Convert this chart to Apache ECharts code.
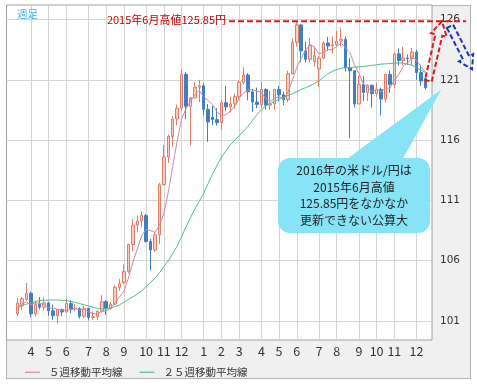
<!DOCTYPE html>
<html><head><meta charset="utf-8">
<script src="https://cdn.jsdelivr.net/npm/echarts@6/dist/echarts.min.js"></script>
<style>
html,body{margin:0;padding:0;background:#fff;}
#panel{position:absolute;left:6px;top:5px;width:465px;height:374px;box-sizing:border-box;background:#f0f0f0;border:1px solid #b4b4b4;}
#chart{position:absolute;left:0;top:0;width:477px;height:388px;}
</style></head><body>
<div id="panel"></div><div id="chart"></div>
<script>
// ---- data ----
const weeks = ['2014/03/17','2014/03/24','2014/03/31','2014/04/07','2014/04/14','2014/04/21','2014/04/28','2014/05/05','2014/05/12','2014/05/19',
'2014/05/26','2014/06/02','2014/06/09','2014/06/16','2014/06/23','2014/06/30','2014/07/07','2014/07/14','2014/07/21','2014/07/28',
'2014/08/04','2014/08/11','2014/08/18','2014/08/25','2014/09/01','2014/09/08','2014/09/15','2014/09/22','2014/09/29','2014/10/06',
'2014/10/13','2014/10/20','2014/10/27','2014/11/03','2014/11/10','2014/11/17','2014/11/24','2014/12/01','2014/12/08','2014/12/15',
'2014/12/22','2014/12/29','2015/01/05','2015/01/12','2015/01/19','2015/01/26','2015/02/02','2015/02/09','2015/02/16','2015/02/23',
'2015/03/02','2015/03/09','2015/03/16','2015/03/23','2015/03/30','2015/04/06','2015/04/13','2015/04/20','2015/04/27','2015/05/04',
'2015/05/11','2015/05/18','2015/05/25','2015/06/01','2015/06/08','2015/06/15','2015/06/22','2015/06/29','2015/07/06','2015/07/13',
'2015/07/20','2015/07/27','2015/08/03','2015/08/10','2015/08/17','2015/08/24','2015/08/31','2015/09/07','2015/09/14','2015/09/21',
'2015/09/28','2015/10/05','2015/10/12','2015/10/19','2015/10/26','2015/11/02','2015/11/09','2015/11/16','2015/11/23','2015/11/30',
'2015/12/07','2015/12/14','2015/12/21'];

const open = [101.6,102.3,102.8,103.3,101.6,102.4,102.15,102.5,101.85,101.45,
101.95,101.75,102.45,102.0,102.05,101.4,102.05,101.3,101.35,101.8,
102.6,102.05,102.4,103.8,104.2,105.1,107.35,108.95,109.3,109.75,
107.6,106.9,108.15,112.3,114.6,116.3,117.75,118.65,121.45,118.8,
119.5,120.4,120.5,118.55,117.9,117.7,117.45,119.1,118.75,119.0,
119.6,120.8,121.4,120.0,119.15,118.95,120.2,118.9,119.0,120.2,
119.75,119.35,121.5,124.1,125.55,123.4,122.7,122.5,121.9,122.8,
124.05,123.8,123.9,124.2,124.35,122.0,121.75,119.0,120.6,119.95,
120.55,119.85,120.2,119.4,121.45,120.6,123.15,122.6,122.8,122.75,
123.3,121.6,121.1];
const close = [102.5,102.85,103.3,101.6,102.4,102.15,102.5,101.85,101.45,101.95,
101.75,102.45,102.0,102.05,101.4,102.05,101.3,101.35,101.8,102.6,
102.05,102.4,103.8,104.1,105.1,107.35,108.95,109.3,109.75,107.6,
106.9,108.15,112.3,114.6,116.3,117.75,118.65,121.45,118.8,119.5,
120.4,120.5,118.55,117.5,117.7,117.45,119.1,118.75,119.0,119.6,
120.8,121.4,120.0,119.15,118.95,120.2,118.9,119.0,120.2,119.75,
119.35,121.5,124.1,125.55,123.4,122.7,123.85,123.0,122.8,124.05,
123.8,123.9,124.2,124.35,122.0,121.75,119.0,120.6,119.95,120.55,
119.85,120.2,119.4,121.45,120.6,123.15,122.6,122.8,122.75,123.3,
121.6,120.9,120.35];
const low = [101.4,101.9,102.7,101.3,101.4,101.95,101.9,101.45,101.1,100.82,
101.4,101.7,101.65,101.8,101.2,101.25,101.05,101.1,101.1,101.7,
101.5,101.95,102.3,103.5,104.05,104.95,106.8,108.35,108.8,107.5,
105.2,106.7,107.4,112.25,114.1,115.45,117.25,118.5,117.75,115.57,
119.45,119.15,118.06,115.85,117.25,117.2,116.85,118.4,118.3,118.6,
119.35,120.6,119.3,118.35,118.65,118.7,118.55,118.5,118.5,119.2,
118.9,119.15,121.45,123.75,122.45,122.45,122.45,122.1,120.4,122.75,
123.4,123.2,123.75,123.8,121.7,116.15,118.7,119.0,119.25,119.25,
118.7,119.6,118.05,119.1,119.9,120.3,122.2,122.2,122.25,122.2,
121.0,120.5,120.2];
const high = [102.9,103.0,104.15,103.45,102.7,103.0,102.95,102.6,102.35,101.95,
102.05,102.8,102.75,102.4,102.15,102.25,102.1,101.8,101.9,103.15,
102.75,102.6,104.0,104.5,105.7,107.4,109.45,109.75,110.1,109.9,
107.8,108.4,112.45,115.6,116.45,118.0,118.95,121.85,121.65,119.4,
120.8,121.0,120.7,119.0,118.85,118.65,119.25,120.5,119.6,119.85,
120.95,122.05,121.55,120.25,120.35,120.85,120.3,120.1,120.25,120.5,
120.0,121.75,124.45,125.86,125.6,124.15,124.45,123.75,123.0,124.2,
124.55,124.6,125.05,125.3,124.6,122.8,121.75,121.35,121.3,120.65,
120.6,120.75,120.35,121.5,121.75,123.25,123.6,123.75,123.1,123.65,
123.5,122.25,121.5];
const ma5 = [102.2,102.4,102.6,102.32,102.53,102.46,102.39,102.10,102.07,101.98,
101.90,101.89,101.92,102.04,101.93,101.99,101.76,101.63,101.58,101.82,
101.82,102.04,102.53,102.99,103.49,104.55,105.86,106.96,108.09,108.59,
108.50,108.34,108.94,109.91,111.65,113.82,115.92,117.75,118.59,119.23,
119.76,120.13,119.55,119.29,118.93,118.34,118.06,118.10,118.40,118.78,
119.45,119.91,120.16,120.19,120.06,119.94,119.44,119.24,119.45,119.61,
119.44,119.96,120.98,122.05,122.78,123.45,123.92,123.70,123.15,123.28,
123.50,123.51,123.75,124.06,123.65,123.24,122.26,121.54,120.66,120.37,
119.99,120.23,119.99,120.29,120.30,120.96,121.44,122.12,122.38,122.92,
122.60,122.12,121.65];
const ma25 = [102.1,102.25,102.4,102.5,102.6,102.7,102.72,102.74,102.75,102.75,
102.72,102.68,102.62,102.55,102.45,102.35,102.25,102.15,102.05,102.0,
102.0,102.1,102.2,102.35,102.55,102.8,103.0,103.25,103.5,103.85,
104.2,104.55,105.0,105.5,106.0,106.6,107.2,108.0,108.8,109.55,
110.3,110.95,111.6,112.4,113.2,113.9,114.6,115.1,115.6,116.0,
116.35,116.75,117.15,117.65,118.1,118.5,118.85,119.05,119.2,119.4,
119.55,119.7,119.85,120.0,120.2,120.35,120.5,120.7,120.9,121.2,
121.5,121.7,121.85,121.95,122.0,122.02,122.05,122.08,122.1,122.15,
122.2,122.25,122.3,122.32,122.35,122.38,122.4,122.38,122.3,122.2,
122.0,121.8,121.6];
const tickWeeks = ['2014/04/07','2014/05/05','2014/06/02','2014/07/07','2014/08/04','2014/09/01','2014/10/06','2014/11/03','2014/12/01',
'2015/01/05','2015/02/02','2015/03/02','2015/04/06','2015/05/04','2015/06/01','2015/07/06','2015/08/03','2015/09/07','2015/10/05','2015/11/02','2015/12/07'];
const tickLabels = ['4','5','6','7','8','9','10','11','12','1','2','3','4','5','6','7','8','9','10','11','12'];
const yTicks = [101,106,111,116,121,126];
const highValue = 125.85;
const seriesNames = ['５週移動平均線','２５週移動平均線'];
const highText = '2015年6月高値125.85円';
const noteLines = ['2016年の米ドル/円は','2015年6月高値','125.85円をなかなか','更新できない公算大'];
const periodText = '週足';

// ---- chart ----
const JP = '"Noto Sans CJK JP", sans-serif';
const cats = ['pad0','pad1'].concat(weeks, ['pad2']);
const blank = v => ['-','-'].concat(v, ['-']);
const candles = weeks.map((w,i)=>[open[i],close[i],low[i],high[i]]);
const chart = echarts.init(document.getElementById('chart'));
chart.setOption({
  animation:false,
  grid:{left:6.5,right:45,top:5,bottom:48,show:true,backgroundColor:'#fff',borderColor:'#a0a0a0',borderWidth:1},
  xAxis:{type:'category',data:cats,boundaryGap:true,
    axisLine:{show:false},axisTick:{show:false},splitLine:{show:false},
    axisLabel:{interval:(idx,val)=>tickWeeks.includes(val),
      formatter:val=>{const k=tickWeeks.indexOf(val);return k>=0?tickLabels[k]:'';},
      margin:5,color:'#333',fontSize:12.5,fontFamily:JP}},
  yAxis:{type:'value',position:'right',min:99.43,max:127.2,scale:true,
    axisLine:{show:false},axisTick:{show:false,customValues:yTicks},splitLine:{show:false},
    axisLabel:{customValues:yTicks,margin:8,color:'#333',fontSize:10.5,fontFamily:'"DejaVu Sans", sans-serif'}},
  legend:{data:seriesNames,left:20,top:362,icon:'rect',itemWidth:15,itemHeight:1.2,itemGap:17,
    textStyle:{fontSize:10.5,color:'#333',fontFamily:JP,padding:[0,0,0,4]}},
  series:[
    {type:'line',name:'gridlines',data:[],silent:true,
      markLine:{z:0,silent:true,symbol:'none',label:{show:false},animation:false,
        lineStyle:{color:'#d4d4d4',width:1,type:'solid'},
        data:tickWeeks.map(w=>({xAxis:w})).concat(yTicks.map(v=>({yAxis:v})))}},
    {type:'candlestick',name:'USDJPY',data:blank(candles).map(c=>c==='-'?['-','-','-','-']:c),
      barWidth:3,z:3,
      itemStyle:{color:'#f7cfc5',color0:'#3f7fc4',borderColor:'#e07c68',borderColor0:'#3f7fc4',borderWidth:1}},
    {type:'line',name:seriesNames[0],data:blank(ma5),symbol:'none',z:4,
      lineStyle:{color:'#cf8a9c',width:1},itemStyle:{color:'#cf8a9c'}},
    {type:'line',name:seriesNames[1],data:blank(ma25),symbol:'none',z:4,
      lineStyle:{color:'#52bd8e',width:1},itemStyle:{color:'#52bd8e'}}
  ]
});

// ---- annotations ----
const yPix = v => chart.convertToPixel({yAxisIndex:0}, v);
const xPix = c => chart.convertToPixel({xAxisIndex:0}, c);
const hy = yPix(highValue);
const lastX = xPix(weeks[weeks.length-1]);
function arrowPts(tx,ty,px,py,s,h,L){
  const dx=px-tx, dy=py-ty, len=Math.hypot(dx,dy), ux=dx/len, uy=dy/len, nx=-uy, ny=ux;
  const bx=px-ux*L, by=py-uy*L;
  return [[tx+nx*s,ty+ny*s],[bx+nx*s,by+ny*s],[bx+nx*h,by+ny*h],[px,py],[bx-nx*h,by-ny*h],[bx-nx*s,by-ny*s],[tx-nx*s,ty-ny*s]];
}
const y121 = yPix(121);
const bubble = {x:278,y:158,w:152,h:75};
const g = [
  {type:'text',left:17,top:9,z:50,style:{text:periodText,fill:'#3bb2e4',fontSize:10.5,fontFamily:JP}},
  {type:'text',z:50,x:226,y:hy-1,style:{text:highText,fill:'#c40000',fontSize:11,fontFamily:JP,align:'right',verticalAlign:'middle'}},
  {type:'line',z:50,shape:{x1:229,y1:hy,x2:466,y2:hy},style:{stroke:'#e01818',lineWidth:2,lineDash:[6,3]}},
  {type:'polygon',z:50,shape:{points:arrowPts(lastX+3,y121+1,442,hy,3.5,8,14)},
    style:{fill:'none',stroke:'#e01818',lineWidth:2,lineDash:[5,2.5]}},
  {type:'polygon',z:50,shape:{points:arrowPts(450,hy+5,472,hy+48,3.5,8,13)},
    style:{fill:'none',stroke:'#1a35b8',lineWidth:2,lineDash:[5,2.5]}},
  {type:'polygon',z:60,shape:{points:[[340,bubble.y+6],[400,bubble.y+6],[lastX+16,yPix(120.2)]]},
    style:{fill:'#86e4f6',stroke:null}},
  {type:'rect',z:60,shape:{x:bubble.x,y:bubble.y,width:bubble.w,height:bubble.h,r:12},style:{fill:'#86e4f6',stroke:null}}
];
noteLines.forEach((t,i)=>{
  g.push({type:'text',z:70,x:bubble.x+bubble.w/2,y:bubble.y+12.5+i*16.7,
    style:{text:t,fill:'#222',fontSize:12,fontFamily:JP,align:'center',verticalAlign:'middle'}});
});
chart.setOption({graphic:g});
</script>
</body></html>
